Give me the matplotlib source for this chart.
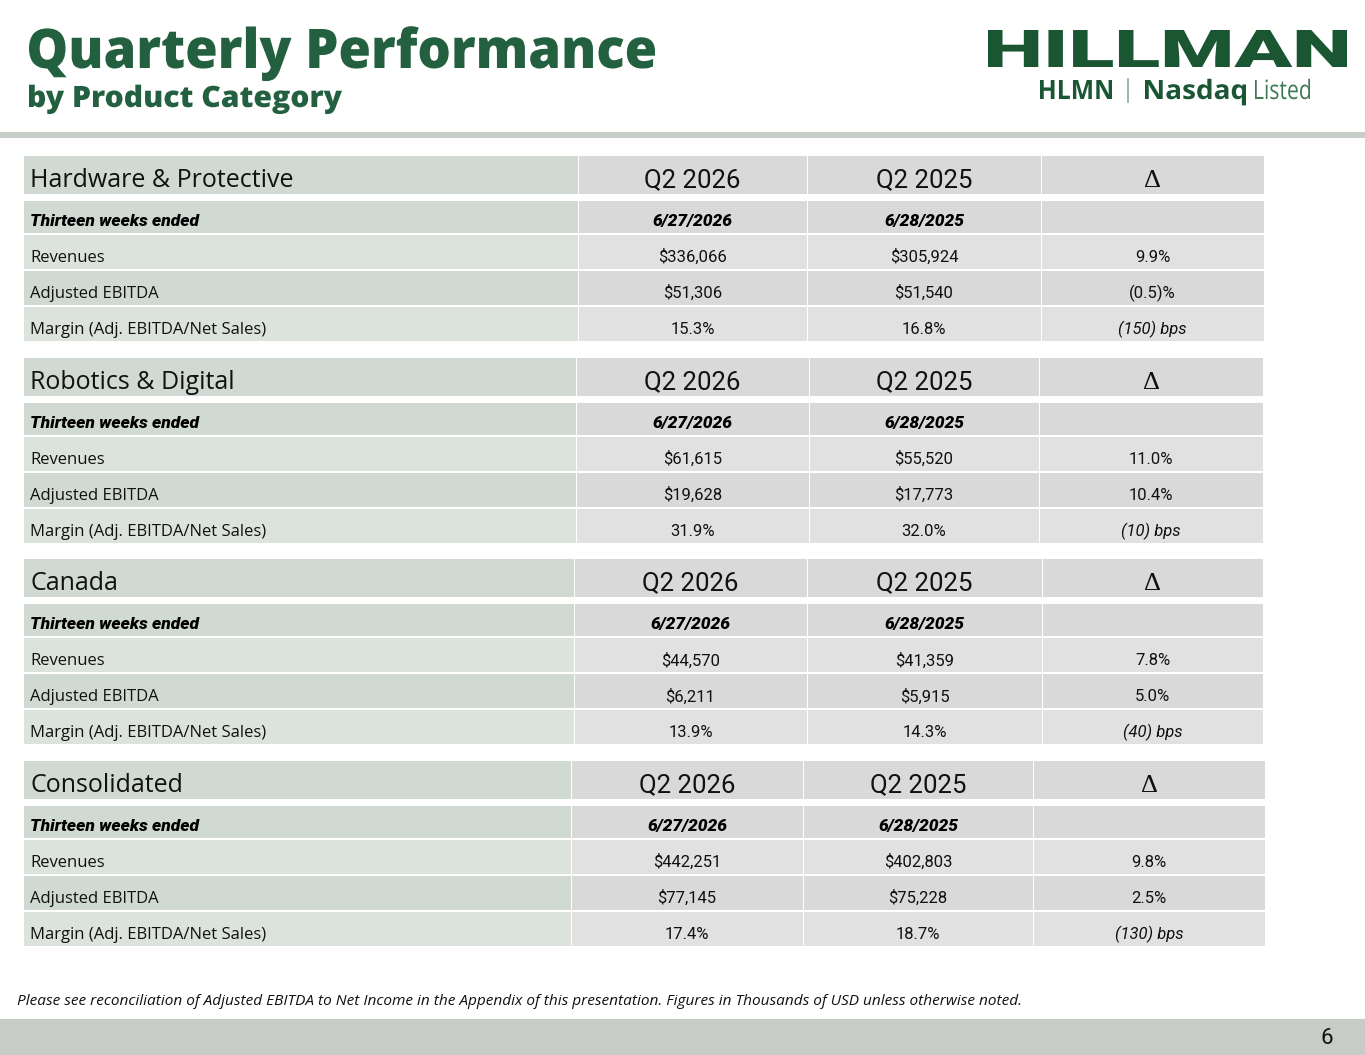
import matplotlib
matplotlib.use("Agg")
import matplotlib.pyplot as plt
from matplotlib.font_manager import FontProperties
from matplotlib.textpath import TextPath
from matplotlib.patches import PathPatch, Rectangle
from matplotlib.transforms import Affine2D

# dados da tabela
secoes = ["Hardware & Protective", "Robotics & Digital", "Canada", "Consolidated"]
periodos = ["Q2 2026", "Q2 2025"]
datas = ["6/27/2026", "6/28/2025"]
linhas = ["Revenues", "Adjusted EBITDA", "Margin (Adj. EBITDA/Net Sales)"]

receita_2026 = [336066, 61615, 44570, 442251]
receita_2025 = [305924, 55520, 41359, 402803]
ebitda_2026 = [51306, 19628, 6211, 77145]
ebitda_2025 = [51540, 17773, 5915, 75228]
margem_2026 = [15.3, 31.9, 13.9, 17.4]
margem_2025 = [16.8, 32.0, 14.3, 18.7]
delta_receita = [9.9, 11.0, 7.8, 9.8]
delta_ebitda = [-0.5, 10.4, 5.0, 2.5]
delta_margem_bps = [-150, -10, -40, -130]

# bordas das colunas de cada bloco (pixels)
colunas = [
    [24, 578, 807, 1041, 1264],
    [24, 576, 809, 1039, 1263],
    [24, 574, 807, 1042, 1263],
    [24, 571, 803, 1033, 1265],
]

VERDE = "#22603f"
VERDE_LOGO = "#1a5632"
CINZA_ESQ = "#d0dad2"
CINZA_ESQ_CLARO = "#dbe3dc"
CINZA_DIR = "#d9d9d9"
CINZA_DIR_CLARO = "#e1e1e1"
TEXTO = "#111111"


def moeda(v):
    return "${:,}".format(v)


def pct(v):
    if v < 0:
        return "({:.1f})%".format(-v)
    return "{:.1f}%".format(v)


def bps(v):
    if v < 0:
        return "({}) bps".format(-v)
    return "{} bps".format(v)


def texto_ajustado(ax, s, x0, x1, base, cap, prop, cor):
    # desenha o texto como caminho, esticado para caber entre x0 e x1
    tp = TextPath((0, 0), s, size=1, prop=prop)
    bb = tp.get_extents()
    h = TextPath((0, 0), "H", size=1, prop=prop).get_extents().height
    sx = (x1 - x0) / bb.width
    sy = cap / h
    tr = Affine2D().translate(-bb.x0, 0).scale(sx, -sy).translate(x0, base) + ax.transData
    ax.add_patch(PathPatch(tp, transform=tr, facecolor=cor, edgecolor="none"))


fig = plt.figure(figsize=(13.65, 10.55), dpi=100)
ax = fig.add_axes([0, 0, 1, 1])
ax.set_xlim(0, 1365)
ax.set_ylim(1055, 0)
ax.axis("off")

# titulo
fonte_titulo = FontProperties(family="Open Sans", weight=800)
texto_ajustado(ax, "Quarterly Performance", 29, 655, 68, 39, fonte_titulo, VERDE)
texto_ajustado(ax, "by Product Category", 29, 342, 107, 21, fonte_titulo, VERDE)

# logo
texto_ajustado(ax, "HILLMAN", 988, 1347, 67, 37, FontProperties(family="Roboto", weight="black"), VERDE_LOGO)
fonte_logo = FontProperties(family="Open Sans", weight="bold")
texto_ajustado(ax, "HLMN", 1040, 1112, 99, 19, fonte_logo, VERDE_LOGO)
ax.plot([1128, 1128], [79, 102], color="#8aa898", lw=1.2)
texto_ajustado(ax, "Nasdaq", 1145, 1246, 99, 19, fonte_logo, VERDE_LOGO)
texto_ajustado(ax, "Listed", 1255, 1310, 99, 19, FontProperties(family="Open Sans"), "#3f7a57")

# linha cinza
ax.add_patch(Rectangle((0, 132), 1365, 6, facecolor="#c8cec8", edgecolor="none"))

# blocos
for i, nome in enumerate(secoes):
    topo = 156 + i * 201.7
    c = colunas[i]
    # cabecalho, datas e 3 linhas de valores
    faixas = [(topo, 38), (topo + 45, 32), (topo + 79, 34), (topo + 115, 34), (topo + 151, 34)]
    cores_esq = [CINZA_ESQ, CINZA_ESQ, CINZA_ESQ_CLARO, CINZA_ESQ, CINZA_ESQ_CLARO]
    cores_dir = [CINZA_DIR, CINZA_DIR, CINZA_DIR_CLARO, CINZA_DIR, CINZA_DIR_CLARO]
    for k, (y0, h) in enumerate(faixas):
        ax.add_patch(Rectangle((c[0], y0), c[1] - c[0], h, facecolor=cores_esq[k], edgecolor="none"))
        for j in range(1, 4):
            ax.add_patch(Rectangle((c[j] + 1, y0), c[j + 1] - c[j] - 1, h,
                                   facecolor=cores_dir[k], edgecolor="none"))

    centros = [(c[j] + c[j + 1]) / 2 for j in range(1, 4)]

    # cabecalho
    yb = faixas[0][0] + 31
    ax.text(30, yb, nome, fontsize=18, family="Open Sans", color=TEXTO, va="baseline")
    for j, p in enumerate(periodos):
        ax.text(centros[j], yb, p, fontsize=18.5, family="Roboto", color=TEXTO,
                va="baseline", ha="center")
    ax.text(centros[2], yb, "Δ", fontsize=19, family="Liberation Serif",
            color=TEXTO, va="baseline", ha="center")

    # datas
    yb = faixas[1][0] + 25
    ax.text(30, yb, "Thirteen weeks ended", fontsize=12.5, family="Roboto", fontweight="black",
            style="italic", color="black", va="baseline")
    for j, d in enumerate(datas):
        ax.text(centros[j], yb, d, fontsize=12.5, family="Roboto", fontweight="black",
                style="italic", color="black", va="baseline", ha="center")

    valores = [
        [moeda(receita_2026[i]), moeda(receita_2025[i]), pct(delta_receita[i])],
        [moeda(ebitda_2026[i]), moeda(ebitda_2025[i]), pct(delta_ebitda[i])],
        [pct(margem_2026[i]), pct(margem_2025[i]), bps(delta_margem_bps[i])],
    ]
    for r, rotulo in enumerate(linhas):
        yb = faixas[r + 2][0] + 27
        ax.text(30, yb, rotulo, fontsize=12, family="Open Sans", color=TEXTO, va="baseline")
        for j, v in enumerate(valores[r]):
            ax.text(centros[j], yb, v, fontsize=12, family="Roboto", color=TEXTO,
                    va="baseline", ha="center",
                    style="italic" if (r == 2 and j == 2) else "normal")

# rodape
ax.text(17, 1005, "Please see reconciliation of Adjusted EBITDA to Net Income in the Appendix of this "
        "presentation. Figures in Thousands of USD unless otherwise noted.",
        fontsize=11.1, family="Open Sans", style="italic", color=TEXTO, va="baseline")
ax.add_patch(Rectangle((0, 1019), 1365, 36, facecolor="#c7ccc6", edgecolor="none"))
ax.text(1327, 1039, "6", fontsize=16, family="Roboto", color=TEXTO, va="center", ha="center")

fig.savefig("out.png", dpi=100)
